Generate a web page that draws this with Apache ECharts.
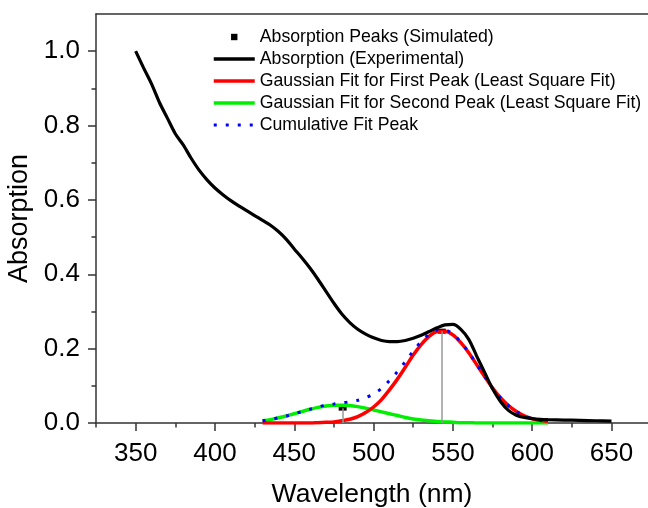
<!DOCTYPE html>
<html>
<head>
<meta charset="utf-8">
<script src="https://cdn.jsdelivr.net/npm/echarts@6/dist/echarts.min.js"></script>
<style>
  html, body { margin: 0; padding: 0; background: #fff; }
  #main { width: 648px; height: 508px; }
</style>
</head>
<body>
<div id="main"></div>
<script>
// experimental absorption spectrum
var expWl = [350, 355, 360, 365, 370, 375, 380, 385, 390, 395, 400, 405, 410, 415, 420, 425, 430, 435, 440, 445,
  450, 455, 460, 465, 470, 475, 480, 485, 490, 495, 500, 505, 510, 515, 520, 525, 530, 535, 540, 545,
  550, 555, 560, 565, 570, 575, 580, 585, 590, 595, 600, 605, 610, 620, 630, 640, 650];
var expAbs = [1.000, 0.955, 0.912, 0.862, 0.820, 0.778, 0.748, 0.712, 0.680, 0.654, 0.632, 0.614, 0.598, 0.584, 0.571, 0.558, 0.545, 0.532, 0.515, 0.494,
  0.468, 0.443, 0.416, 0.386, 0.354, 0.322, 0.293, 0.270, 0.252, 0.239, 0.229, 0.222, 0.219, 0.219, 0.222, 0.228, 0.236, 0.246, 0.256, 0.264,
  0.265, 0.252, 0.225, 0.180, 0.136, 0.092, 0.058, 0.034, 0.021, 0.015, 0.012, 0.010, 0.009, 0.008, 0.007, 0.006, 0.005];

// fitted curves (430 - 610 nm)
var fitWl = [430, 435, 440, 445, 450, 455, 460, 465, 470, 475, 480, 485, 490, 495, 500, 505, 510, 515, 520,
  525, 530, 535, 540, 545, 550, 555, 560, 565, 570, 575, 580, 585, 590, 595, 600, 605, 610];
var fit1 = [0.000, 0.000, 0.000, 0.000, 0.000, 0.000, 0.000, 0.001, 0.002, 0.003, 0.006, 0.010, 0.017, 0.028, 0.043, 0.063, 0.089, 0.118, 0.150,
  0.183, 0.211, 0.233, 0.246, 0.247, 0.237, 0.216, 0.189, 0.157, 0.125, 0.094, 0.068, 0.047, 0.031, 0.019, 0.011, 0.007, 0.004];
var fit2 = [0.006, 0.009, 0.014, 0.019, 0.025, 0.031, 0.037, 0.042, 0.046, 0.048, 0.048, 0.047, 0.044, 0.040, 0.035, 0.030, 0.025, 0.020, 0.015,
  0.011, 0.008, 0.006, 0.004, 0.003, 0.002, 0.001, 0.001, 0.000, 0.000, 0.000, 0.000, 0.000, 0.000, 0.000, 0.000, 0.000, 0.000];
var fitSum = [0.006, 0.009, 0.014, 0.019, 0.025, 0.031, 0.037, 0.043, 0.048, 0.051, 0.054, 0.057, 0.061, 0.068, 0.078, 0.093, 0.114, 0.138, 0.165,
  0.194, 0.219, 0.239, 0.250, 0.250, 0.239, 0.217, 0.190, 0.157, 0.125, 0.094, 0.068, 0.047, 0.031, 0.019, 0.011, 0.007, 0.004];

// simulated peaks
var peakWl = [480.5, 543];
var peakAbs = [0.040, 0.247];

// ticks
var xMajor = [350, 400, 450, 500, 550, 600, 650];
var xMinor = [325, 375, 425, 475, 525, 575, 625];
var yMajor = [0, 0.2, 0.4, 0.6, 0.8, 1.0];
var yMinor = [0.1, 0.3, 0.5, 0.7, 0.9];

var names = ['Absorption Peaks (Simulated)', 'Absorption (Experimental)',
  'Gaussian Fit for First Peak (Least Square Fit)', 'Gaussian Fit for Second Peak (Least Square Fit)',
  'Cumulative Fit Peak'];

var FONT = '"Liberation Sans", Arial, sans-serif';
var axisColor = '#333';

function pairs(xs, ys) {
  return xs.map(function (x, i) { return [x, ys[i]]; });
}

var chart = echarts.init(document.getElementById('main'), null, { renderer: 'canvas' });

function xAxisBase(extra) {
  var a = {
    type: 'value', min: 325, max: 673, gridIndex: 0,
    splitLine: { show: false },
    axisLine: { show: false, onZero: false, lineStyle: { color: axisColor, width: 1.5 } },
    axisTick: { show: false },
    axisLabel: { show: false }
  };
  return Object.assign(a, extra);
}
function yAxisBase(extra) {
  var a = {
    type: 'value', min: 0, max: 1.1, gridIndex: 0,
    splitLine: { show: false },
    axisLine: { show: false, onZero: false, lineStyle: { color: axisColor, width: 1.5 } },
    axisTick: { show: false },
    axisLabel: { show: false }
  };
  return Object.assign(a, extra);
}

var option = {
  animation: false,
  backgroundColor: '#fff',
  grid: { left: 96, right: 0, top: 14, bottom: 85, containLabel: false, outerBoundsMode: 'none' },
  legend: {
    orient: 'vertical',
    left: 207,
    top: 23,
    itemWidth: 41,
    itemHeight: 8,
    itemGap: 4,
    lineStyle: { width: 3.5 },
    textStyle: { fontFamily: FONT, fontSize: 17.7, color: '#000', lineHeight: 16 },
    data: [
      { name: names[0], lineStyle: { opacity: 0 } },
      { name: names[1], itemStyle: { opacity: 0 } },
      { name: names[2], itemStyle: { opacity: 0 } },
      { name: names[3], itemStyle: { opacity: 0 } },
      { name: names[4], itemStyle: { opacity: 0 }, lineStyle: { width: 3 } }
    ]
  },
  xAxis: [
    xAxisBase({
      position: 'bottom',
      name: 'Wavelength (nm)', nameLocation: 'middle', nameGap: 58,
      nameTextStyle: { fontFamily: FONT, fontSize: 26.5, color: '#000' },
      axisLine: { show: true, onZero: false, lineStyle: { color: axisColor, width: 1.5 } },
      axisTick: { show: true, inside: false, length: 8, customValues: xMajor, lineStyle: { color: axisColor, width: 1.5 } },
      axisLabel: { show: true, customValues: xMajor, margin: 18, fontFamily: FONT, fontSize: 26, color: '#000' }
    }),
    xAxisBase({
      position: 'bottom',
      axisTick: { show: true, inside: false, length: 4.5, customValues: xMinor, lineStyle: { color: axisColor, width: 1.5 } }
    }),
    xAxisBase({
      position: 'top',
      axisLine: { show: true, onZero: false, lineStyle: { color: axisColor, width: 1.5 } }
    })
  ],
  yAxis: [
    yAxisBase({
      position: 'left',
      name: 'Absorption', nameLocation: 'middle', nameGap: 57,
      nameTextStyle: { fontFamily: FONT, fontSize: 27, color: '#000' },
      axisLine: { show: true, onZero: false, lineStyle: { color: axisColor, width: 1.5 } },
      axisTick: { show: true, inside: false, length: 8, customValues: yMajor, lineStyle: { color: axisColor, width: 1.5 } },
      axisLabel: {
        show: true, customValues: yMajor, margin: 16, fontFamily: FONT, fontSize: 26, color: '#000',
        formatter: function (v) { return v.toFixed(1); }
      }
    }),
    yAxisBase({
      position: 'left',
      axisTick: { show: true, inside: false, length: 4.5, customValues: yMinor, lineStyle: { color: axisColor, width: 1.5 } }
    })
  ],
  series: [
    {
      name: names[0],
      type: 'line',
      data: pairs(peakWl, peakAbs),
      symbol: 'rect',
      symbolSize: [8, 5],
      showSymbol: true,
      itemStyle: { color: '#000' },
      lineStyle: { opacity: 0, color: '#000', width: 1 },
      z: 1,
      markLine: {
        silent: true,
        symbol: 'none',
        label: { show: false },
        lineStyle: { color: '#999', width: 1.5, type: 'solid' },
        data: peakWl.map(function (w, i) {
          return [{ coord: [w, peakAbs[i]] }, { coord: [w, 0] }];
        })
      }
    },
    {
      name: names[1],
      type: 'line',
      data: pairs(expWl, expAbs),
      showSymbol: false,
      symbol: 'none',
      smooth: 0.3,
      itemStyle: { color: '#000' },
      lineStyle: { color: '#000', width: 3.2 },
      z: 5
    },
    {
      name: names[2],
      type: 'line',
      data: pairs(fitWl, fit1),
      showSymbol: false,
      symbol: 'none',
      smooth: 0.3,
      itemStyle: { color: '#ff0000' },
      lineStyle: { color: '#ff0000', width: 3.5 },
      z: 3
    },
    {
      name: names[3],
      type: 'line',
      data: pairs(fitWl, fit2),
      showSymbol: false,
      symbol: 'none',
      smooth: 0.3,
      itemStyle: { color: '#00ee00' },
      lineStyle: { color: '#00ee00', width: 3.5 },
      z: 2
    },
    {
      name: names[4],
      type: 'line',
      data: pairs(fitWl, fitSum),
      showSymbol: false,
      symbol: 'none',
      smooth: 0.3,
      itemStyle: { color: '#0000ff' },
      lineStyle: { color: '#0000ff', width: 3, type: [3, 9] },
      z: 4
    }
  ]
};

chart.setOption(option);
</script>
</body>
</html>
